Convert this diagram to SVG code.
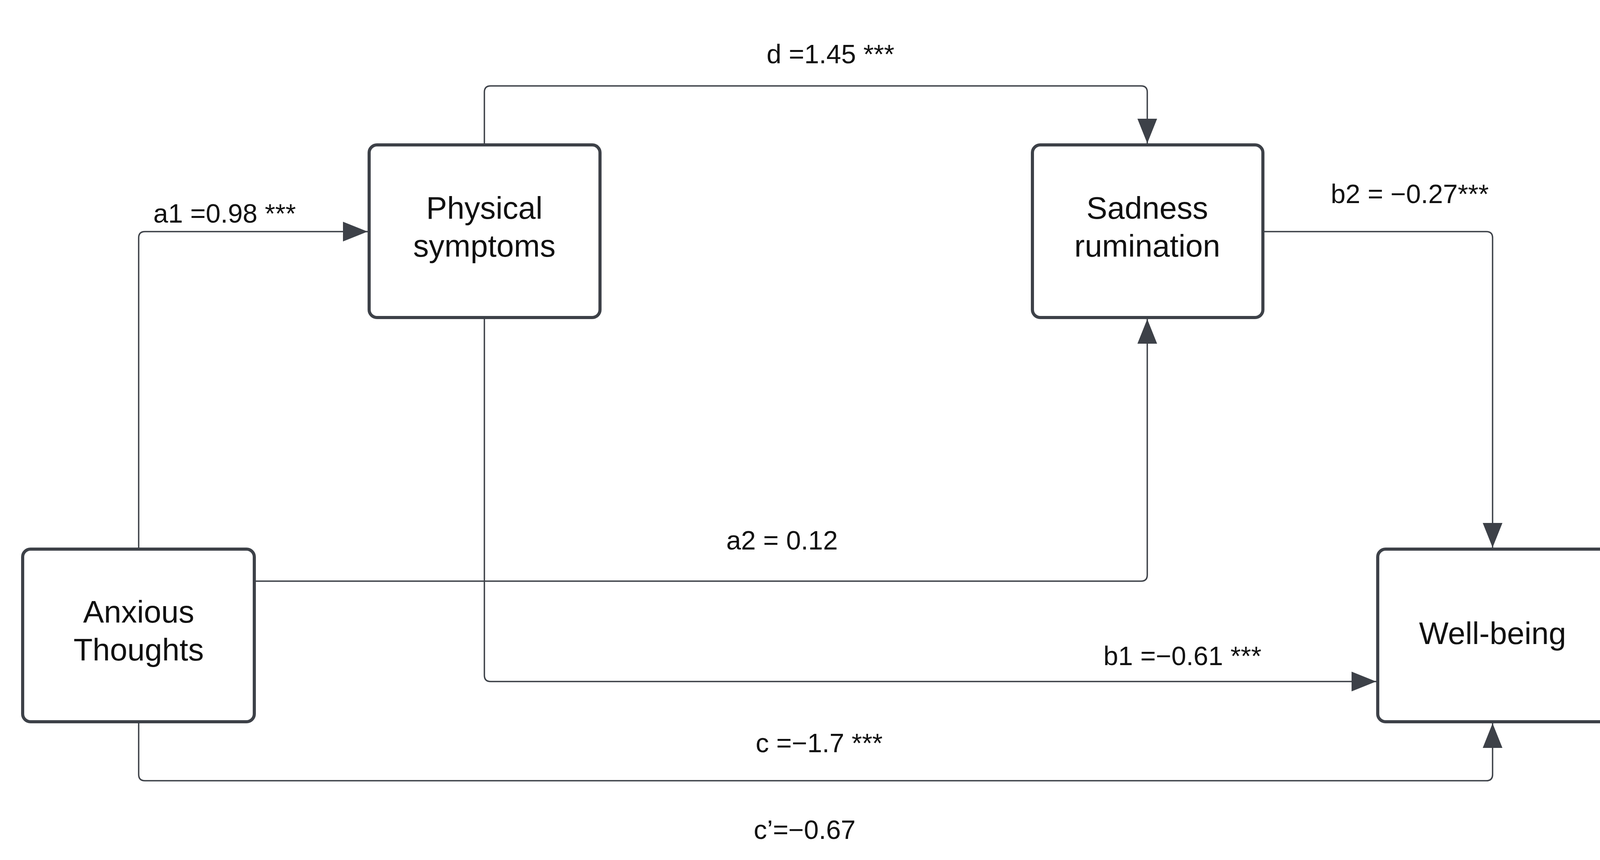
<svg xmlns="http://www.w3.org/2000/svg" width="4152" height="2202" viewBox="0 0 4152 2202">
<style>
.box{fill:#fff;stroke:#3d4148;stroke-width:8}
.ln{fill:none;stroke:#3d4148;stroke-width:3.5;stroke-linejoin:round}
.nt{font-family:"Liberation Sans",Arial,sans-serif;font-size:80px;fill:#111;text-anchor:middle}
.lb{font-family:"Liberation Sans",Arial,sans-serif;font-size:68px;fill:#111;text-anchor:middle}
</style>
<defs>
<marker id="ah" viewBox="0 0 10 10" refX="10" refY="5" markerWidth="16" markerHeight="16" markerUnits="userSpaceOnUse" orient="auto">
<path d="M0,0 L10,5 L0,10 Z" fill="#3d4148"/>
</marker>
<marker id="ah2" viewBox="0 0 10 10" refX="10" refY="5" markerWidth="18" markerHeight="18" orient="auto">
<path d="M0,1 L10,5 L0,9 Z" fill="#3d4148"/>
</marker>
</defs>
<rect width="4152" height="2202" fill="#fff"/>
<g id="connectors">
<path class="ln" marker-end="url(#ah2)" d="M1240,371 V236 Q1240,220 1256,220 H2921 Q2937,220 2937,236 V367"/>
<path class="ln" marker-end="url(#ah2)" d="M355,1406 V609 Q355,593 371,593 H941"/>
<path class="ln" marker-end="url(#ah2)" d="M651,1488 H2921 Q2937,1488 2937,1472 V817"/>
<path class="ln" marker-end="url(#ah2)" d="M1240,813 V1729 Q1240,1745 1256,1745 H3523"/>
<path class="ln" marker-end="url(#ah2)" d="M3233,593 H3805 Q3821,593 3821,609 V1402"/>
<path class="ln" marker-end="url(#ah2)" d="M355,1848 V1983 Q355,1999 371,1999 H3805 Q3821,1999 3821,1983 V1852"/>
</g>
<g id="labels">
<text class="lb" x="2126" y="162">d =1.45 ***</text>
<text class="lb" x="575" y="570">a1 =0.98 ***</text>
<text class="lb" x="3609" y="520">b2 = −0.27***</text>
<text class="lb" x="2002" y="1407">a2 = 0.12</text>
<text class="lb" x="3027" y="1703">b1 =−0.61 ***</text>
<text class="lb" x="2097" y="1926">c =−1.7 ***</text>
<text class="lb" x="2060" y="2148">c’=−0.67</text>
</g>
<g id="physical"><rect class="box" x="945" y="371" width="591" height="442" rx="20"/>
<text class="nt" x="1240" y="560">Physical</text><text class="nt" x="1240" y="657">symptoms</text></g>
<g id="sadness"><rect class="box" x="2643" y="371" width="590" height="442" rx="20"/>
<text class="nt" x="2937" y="560">Sadness</text><text class="nt" x="2937" y="657">rumination</text></g>
<g id="anxious"><rect class="box" x="58" y="1406" width="593" height="442" rx="20"/>
<text class="nt" x="355" y="1594">Anxious</text><text class="nt" x="355" y="1691">Thoughts</text></g>
<g id="wellbeing"><rect class="box" x="3527" y="1406" width="593" height="442" rx="20"/>
<text class="nt" x="3821" y="1649">Well-being</text></g>
</svg>
